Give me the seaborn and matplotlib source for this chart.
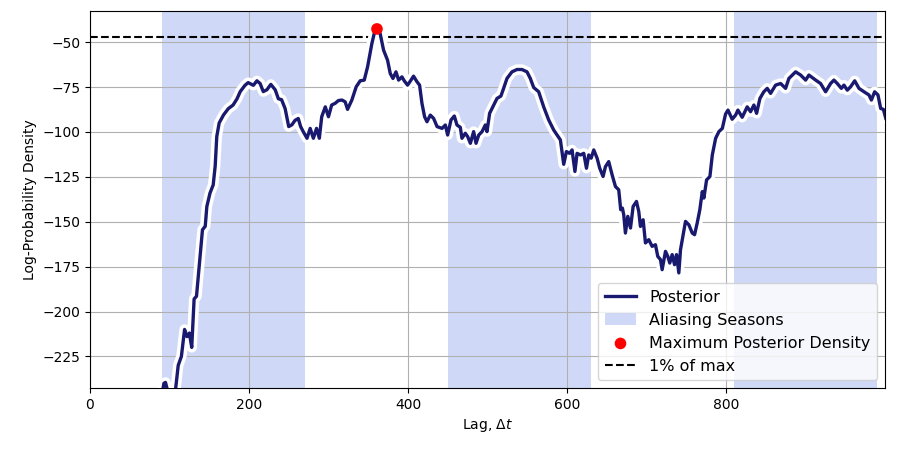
import numpy as np
import matplotlib
matplotlib.use("Agg")
import matplotlib.pyplot as plt
import matplotlib.patheffects as pe
import seaborn as sns

# posterior log-density
lag = [85, 90, 93, 95, 97, 103, 108, 111, 115, 119, 122, 125, 128, 131, 134,
       138.5, 141.5, 145, 147, 151, 155, 157.5, 159.5, 162.5, 168, 174, 180,
       185, 189, 195, 199, 205.5, 210, 214, 218, 222.5, 227.5, 233, 237, 241,
       245.5, 250, 254, 258, 262, 265, 268.5, 273, 277, 281, 285, 288.5,
       291.5, 296, 300, 304, 308.5, 312.5, 317, 321, 324, 329.4, 334.9, 339.9,
       345, 349.2, 354.6, 358, 361, 365, 369.3, 374.3, 377.7, 381.1, 384.9,
       388.2, 392.4, 395.3, 399.5, 403.8, 407, 411.3, 414.6, 417.6, 420.9,
       423.9, 428.1, 432.2, 436.6, 442.8, 447, 449.9, 454.1, 458.3, 461.6,
       465.8, 467.9, 472.1, 475.1, 478.5, 482.6, 485.6, 489, 493.2, 497.3,
       499.4, 502.7, 507.8, 512, 516.9, 520.3, 524.5, 530.8, 537.1, 543.4,
       549.7, 553.9, 558.1, 564.4, 570.7, 577, 583.3, 587.5, 591.7, 595.9,
       599.3, 603.4, 606.4, 610, 612.7, 616.9, 621.1, 624.5, 627.4, 630.4,
       633.7, 637.9, 641.2, 645.4, 648.4, 652.5, 656.8, 661, 665.1, 667.6,
       669.7, 671.4, 673.5, 676.5, 679.9, 683.2, 687.4, 690.3, 692.4, 695.8,
       698.7, 702.9, 707.1, 711.3, 714.2, 717.6, 719.7, 723.9, 726.8, 729.3,
       732.3, 735.3, 737.8, 740.7, 742.8, 746.2, 749.1, 753.3, 757.6, 760.5,
       763.8, 767.1, 770.2, 772.2, 775.6, 779.8, 782.8, 787, 791.1, 795.4,
       799.5, 802.5, 807.8, 812.1, 815, 820.4, 826.7, 830.9, 835.1, 838.5,
       842.7, 847.6, 851.9, 856.1, 862.4, 868.7, 875, 879.1, 887.6, 893.9,
       900.2, 904.3, 912.8, 919, 925.3, 931.6, 935.8, 940, 945.1, 948.4,
       952.6, 956.8, 961.9, 967.3, 973.6, 979.9, 982.9, 987, 991.2, 994.6,
       998, 1001]
logp = [-262, -248, -240, -239.5, -243, -255, -242, -230, -225, -210, -214,
        -212, -220, -193, -191.5, -169, -154.5, -152.5, -141.5, -134, -129.5,
        -119, -102.5, -95, -90.5, -87, -85, -81.5, -77.5, -74, -72.5, -74,
        -71.5, -73, -77.5, -76.5, -73.5, -76.5, -81.5, -82, -87, -97, -96,
        -93.5, -92.5, -97, -100, -103.5, -98, -103.5, -98, -103.5, -91.5, -86,
        -91.5, -85, -84, -82.5, -82.2, -83.2, -87.4, -82.2, -74.8, -71.5,
        -71.1, -63.7, -50.7, -44.3, -42.6, -45.2, -54.4, -60, -67.4, -70.2,
        -66.5, -71.1, -69.3, -71.5, -73.9, -71.1, -68.9, -72, -73.9, -84.1,
        -91.5, -94.3, -90.6, -92.4, -97, -98, -96.1, -101.7, -93.3, -91.1,
        -96.1, -97.4, -103.5, -100.7, -102.6, -106.3, -99.8, -106.3, -101.7,
        -99.8, -96.1, -99.8, -89.6, -85, -81.3, -80, -75.7, -70.2, -66.5,
        -65.2, -65.2, -66.5, -70.2, -75.2, -77.6, -86, -93.3, -98.9, -101.7,
        -104.4, -118, -110.9, -111.9, -110, -122, -111.9, -112.8, -111.9,
        -120.2, -112.8, -114.6, -110, -114.6, -120.2, -124.8, -119.3, -116.5,
        -123.9, -130.4, -132.2, -143.3, -142.4, -146.1, -156.3, -147, -153.5,
        -141.5, -138.7, -144.3, -152.6, -148.9, -161.8, -160, -163.7, -162.8,
        -169.3, -171.1, -176.7, -166.5, -169.3, -173, -168.3, -173.9, -168.3,
        -178.5, -165.6, -157.2, -149.8, -151.7, -156.3, -157.2, -150.7, -143.3,
        -133.2, -136.8, -126.7, -124.8, -112.8, -103.5, -99.8, -98, -90,
        -87.8, -92.9, -90.6, -87.8, -91.8, -86, -88.7, -85, -89.6, -81.3,
        -77.6, -75.7, -78.5, -73.9, -73, -75.7, -70.2, -66.5, -68.3, -71.1,
        -68.3, -71.1, -73, -77.6, -73, -71.1, -73, -75.7, -73.9, -76.7, -74.8,
        -71.5, -75.7, -77.6, -79.4, -82.2, -77.6, -79.4, -86.9, -87.4, -92.4]

season_starts = [90, 450, 810]
season_length = 180

lag = np.array(lag)
logp = np.array(logp)
imax = np.argmax(logp)
ymax = logp[imax]

fig = plt.figure(figsize=(8.97, 4.5), dpi=100)
ax = fig.add_axes([0.1003, 0.1378, 0.9866 - 0.1003, 0.9756 - 0.1378])

for i, s in enumerate(season_starts):
    ax.axvspan(s, s + season_length, color="royalblue", alpha=0.25, lw=0,
               label="Aliasing Seasons" if i == 0 else None)

sns.lineplot(x=lag, y=logp, ax=ax, color="midnightblue", lw=2.4,
             label="Posterior", zorder=3,
             path_effects=[pe.Stroke(linewidth=7.5, foreground="white"), pe.Normal()])
sns.scatterplot(x=[lag[imax]], y=[ymax], ax=ax, color="red", s=70,
                edgecolor="none", zorder=5, label="Maximum Posterior Density")
ax.axhline(ymax + np.log(0.01), color="black", ls="--", lw=1.5, label="1% of max")

ax.set_xlim(0, 1000)
ax.set_ylim(ymax - 200, ymax + 10)
ax.set_xticks([0, 200, 400, 600, 800])
ax.grid(True, color="#b0b0b0", lw=0.8)
ax.set_xlabel(r"Lag, $\Delta t$")
ax.set_ylabel("Log-Probability Density")

handles, labels = ax.get_legend_handles_labels()
order = [labels.index(l) for l in ["Posterior", "Aliasing Seasons",
                                   "Maximum Posterior Density", "1% of max"]]
leg = ax.legend([handles[i] for i in order], [labels[i] for i in order],
                loc="lower right", fontsize=11.5)
for line in leg.get_lines():
    line.set_path_effects([])

fig.savefig("out.png", dpi=100)
